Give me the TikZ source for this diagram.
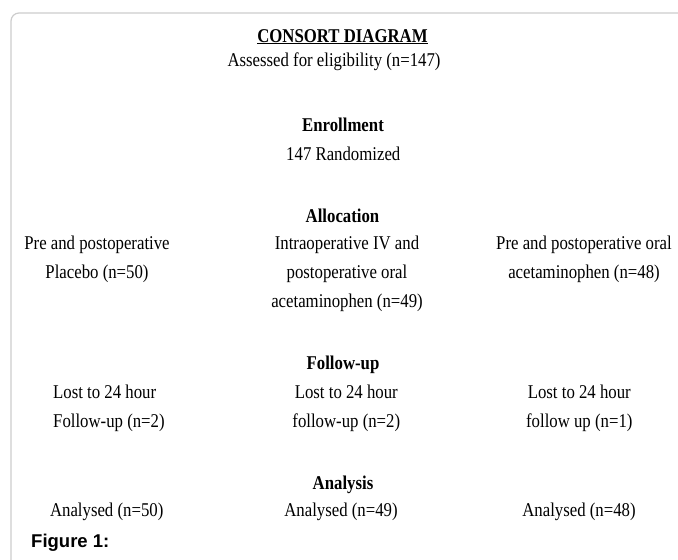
\documentclass[tikz,border=0pt]{standalone}
\usepackage{fontspec}
\setmainfont{Liberation Serif}[FakeStretch=0.86]
\newfontfamily\figfont{Liberation Sans}

\tikzset{
  txt/.style={inner sep=0pt, anchor=base, align=center, font=\fontsize{19.5}{29}\selectfont},
  head/.style={txt, font=\fontsize{19.5}{29}\selectfont\bfseries},
  caption/.style={inner sep=0pt, anchor=base west, font=\figfont\fontsize{18.5}{20}\selectfont\bfseries}
}

\begin{document}
\begin{tikzpicture}[x=1pt, y=-1pt]

    % Fix the page to the size of the figure
    \useasboundingbox (0,0) rectangle (678,560);

    % Draw the grey frame, open to the right and bottom
    \draw[line width=1.2pt, gray!40, rounded corners=8pt] (11,560) -- (11,13) -- (678,13);

    % Title and screening
    \node[head] (title) at (342.5,42) {\underline{CONSORT DIAGRAM}};
    \node[txt] (assess) at (334,66.7) {Assessed for eligibility (n=147)};

    % Enrollment stage
    \node[head] (enrol) at (343,131) {Enrollment};
    \node[txt] (rand) at (343.3,160) {147 Randomized};

    % Allocation stage, one node per group (base = last line)
    \node[head] (alloc) at (342.5,222.5) {Allocation};
    \node[txt] (allocA) at (97,278.5) {Pre and postoperative\\Placebo (n=50)};
    \node[txt] (allocB) at (347,307) {Intraoperative IV and\\postoperative oral\\acetaminophen (n=49)};
    \node[txt] (allocC) at (584,278.5) {Pre and postoperative oral\\acetaminophen (n=48)};

    % Follow-up stage
    \node[head] (follow) at (343,369.5) {Follow-up};
    \node[txt, align=left, anchor=base west] (lostA) at (53,427) {Lost to 24 hour\\Follow-up (n=2)};
    \node[txt] (lostB) at (346.3,427) {Lost to 24 hour\\follow-up (n=2)};
    \node[txt] (lostC) at (579.3,427) {Lost to 24 hour\\follow up (n=1)};

    % Analysis stage
    \node[head] (analysis) at (343,489) {Analysis};
    \node[txt] (anaA) at (106.7,516.7) {Analysed (n=50)};
    \node[txt] (anaB) at (341,516.7) {Analysed (n=49)};
    \node[txt] (anaC) at (579,516.7) {Analysed (n=48)};

    % Caption below the frame content
    \node[caption] (fig) at (31,547.7) {Figure 1:};

\end{tikzpicture}
\end{document}
